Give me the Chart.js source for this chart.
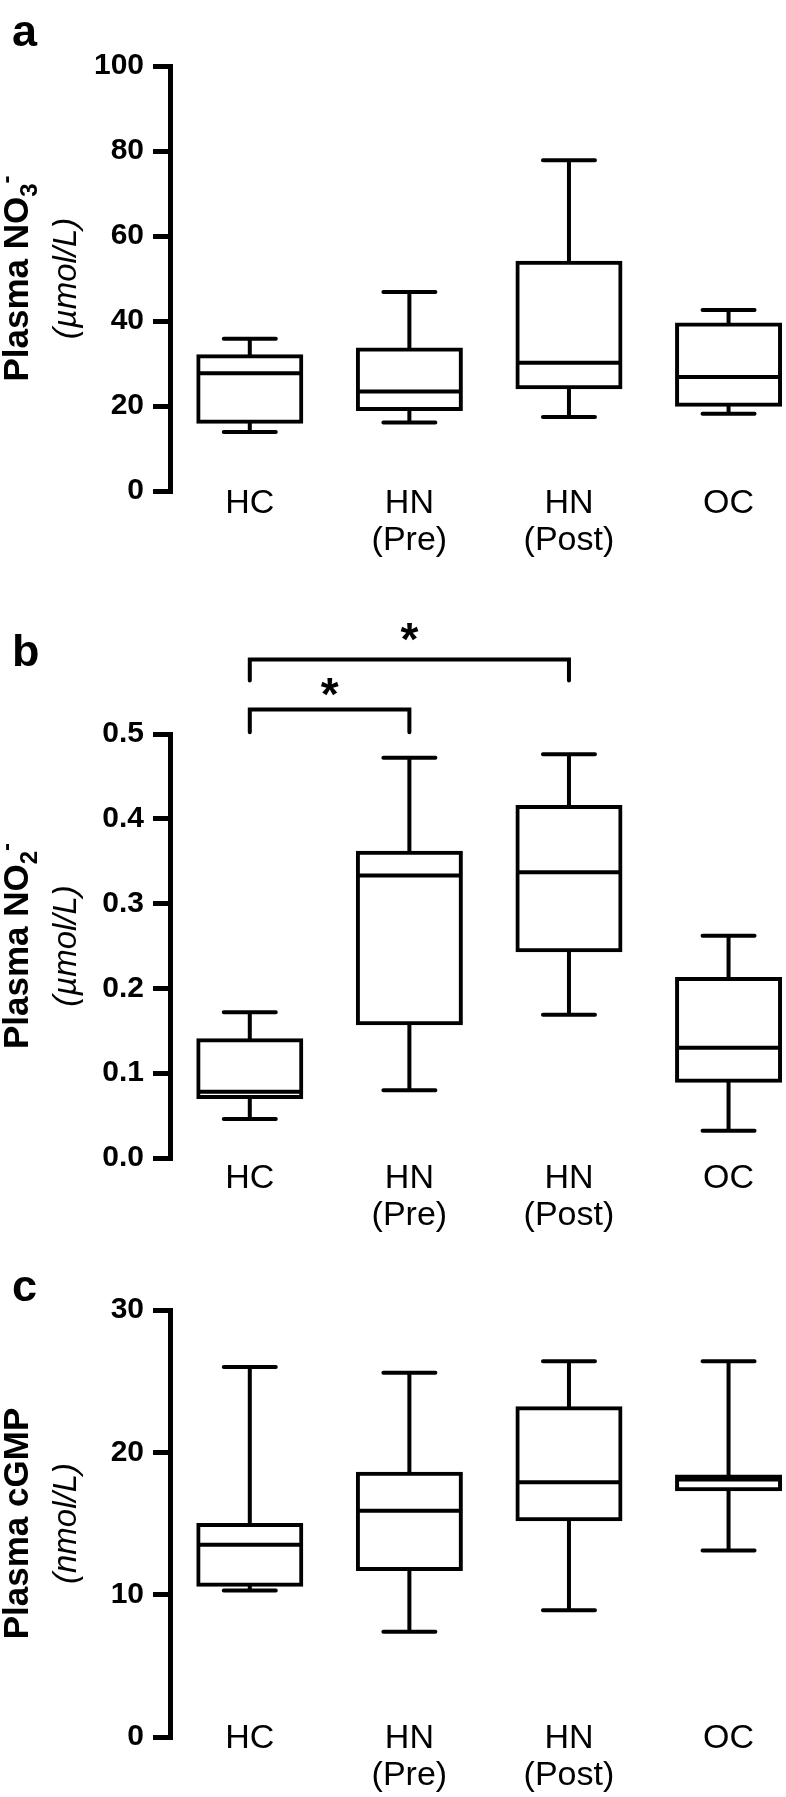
<!DOCTYPE html>
<html>
<head>
<meta charset="utf-8">
<script src="https://cdn.jsdelivr.net/npm/chart.js@4.4.0/dist/chart.umd.min.js"></script>
<style>
  body { margin: 0; background: #fff; }
  canvas { position: absolute; left: 0; }
</style>
</head>
<body>
<canvas id="chartA" width="786" height="590" style="top:0px"></canvas>
<canvas id="chartB" width="786" height="650" style="top:590px"></canvas>
<canvas id="chartC" width="786" height="557" style="top:1240px"></canvas>
<script>
var groups = [['HC'], ['HN', '(Pre)'], ['HN', '(Post)'], ['OC']];

// a - plasma nitrate (umol/L)
var no3Min = [13.9, 16.1, 17.4, 18.2];
var no3Q1 = [16.3, 19.3, 24.4, 20.3];
var no3Median = [27.7, 23.4, 30.2, 26.8];
var no3Q3 = [31.7, 33.3, 53.7, 39.2];
var no3Max = [35.8, 46.8, 77.8, 42.6];
var no3Ticks = [0, 20, 40, 60, 80, 100];
var no3TickLabels = ['0', '20', '40', '60', '80', '100'];

// b - plasma nitrite (umol/L)
var no2Min = [0.046, 0.080, 0.169, 0.032];
var no2Q1 = [0.072, 0.159, 0.245, 0.091];
var no2Median = [0.078, 0.333, 0.337, 0.130];
var no2Q3 = [0.139, 0.360, 0.414, 0.211];
var no2Max = [0.172, 0.472, 0.476, 0.262];
var no2Ticks = [0, 0.1, 0.2, 0.3, 0.4, 0.5];
var no2TickLabels = ['0.0', '0.1', '0.2', '0.3', '0.4', '0.5'];

// significance brackets in panel b (group index from/to, heights in y units)
var sigFrom = [0, 0];
var sigTo = [1, 2];
var sigBar = [0.529, 0.588];
var sigLeg = [0.502, 0.563];
var sigStar = [0.558, 0.623];
var sigText = ['*', '*'];

// c - plasma cGMP (nmol/L)
var cgmpMin = [10.3, 7.4, 8.9, 13.1];
var cgmpQ1 = [10.7, 11.8, 15.3, 17.4];
var cgmpMedian = [13.5, 15.9, 17.9, 18.1];
var cgmpQ3 = [14.9, 18.5, 23.1, 18.3];
var cgmpMax = [26.0, 25.6, 26.4, 26.4];
var cgmpTicks = [0, 10, 20, 30];
var cgmpTickLabels = ['0', '10', '20', '30'];

var FONT = '"Liberation Sans", Arial, Helvetica, sans-serif';

function makeChart(id, cfg) {
  var extras = {
    id: 'extras',
    afterDatasetsDraw: function (chart) {
      var ctx = chart.ctx, x = chart.scales.x, y = chart.scales.y;
      ctx.save();
      ctx.strokeStyle = '#000';
      ctx.lineWidth = 4;
      for (var i = 0; i < cfg.med.length; i++) {
        var cx = x.getPixelForValue(i);
        ctx.lineCap = 'butt';
        ctx.beginPath();
        ctx.moveTo(cx, y.getPixelForValue(cfg.q3[i]));
        ctx.lineTo(cx, y.getPixelForValue(cfg.max[i]));
        ctx.moveTo(cx, y.getPixelForValue(cfg.q1[i]));
        ctx.lineTo(cx, y.getPixelForValue(cfg.min[i]));
        ctx.moveTo(cx - 51.5, y.getPixelForValue(cfg.med[i]));
        ctx.lineTo(cx + 51.5, y.getPixelForValue(cfg.med[i]));
        ctx.stroke();
        // whisker caps
        ctx.lineCap = 'round';
        ctx.beginPath();
        ctx.moveTo(cx - 26, y.getPixelForValue(cfg.max[i]));
        ctx.lineTo(cx + 26, y.getPixelForValue(cfg.max[i]));
        ctx.moveTo(cx - 26, y.getPixelForValue(cfg.min[i]));
        ctx.lineTo(cx + 26, y.getPixelForValue(cfg.min[i]));
        ctx.stroke();
      }
      if (cfg.sig) {
        var s = cfg.sig;
        ctx.lineCap = 'round';
        ctx.lineJoin = 'miter';
        ctx.fillStyle = '#000';
        ctx.font = 'bold 46px ' + FONT;
        ctx.textAlign = 'center';
        ctx.textBaseline = 'alphabetic';
        for (var j = 0; j < s.from.length; j++) {
          var x1 = x.getPixelForValue(s.from[j]), x2 = x.getPixelForValue(s.to[j]);
          var top = y.getPixelForValue(s.bar[j]), leg = y.getPixelForValue(s.leg[j]);
          ctx.beginPath();
          ctx.moveTo(x1, leg);
          ctx.lineTo(x1, top);
          ctx.lineTo(x2, top);
          ctx.lineTo(x2, leg);
          ctx.stroke();
          ctx.fillText(s.text[j], (x1 + x2) / 2, y.getPixelForValue(s.star[j]) + 25);
        }
      }
      ctx.restore();
    },
    afterDraw: function (chart) {
      var ctx = chart.ctx, x = chart.scales.x, y = chart.scales.y;
      ctx.save();
      ctx.fillStyle = '#000';
      // category labels under each box
      ctx.font = '34px ' + FONT;
      ctx.textAlign = 'center';
      ctx.textBaseline = 'alphabetic';
      var base = y.getPixelForValue(0) + cfg.labelDrop;
      groups.forEach(function (lines, i) {
        lines.forEach(function (t, k) {
          ctx.fillText(t, x.getPixelForValue(i), base + k * 37);
        });
      });
      // panel letter
      ctx.textAlign = 'left';
      ctx.font = 'bold 45px ' + FONT;
      ctx.fillText(cfg.letter, 12, cfg.letterY);
      // rotated y title
      var cy = (y.top + y.bottom) / 2;
      ctx.save();
      ctx.translate(28, cy);
      ctx.rotate(-Math.PI / 2);
      var fonts = { main: 'bold 35px ' + FONT, sub: 'bold 24px ' + FONT, sup: 'bold 24px ' + FONT };
      var shift = { main: 0, sub: 9, sup: -14 };
      var total = 0;
      cfg.title.forEach(function (p) { ctx.font = fonts[p[1]]; total += ctx.measureText(p[0]).width; });
      var pos = -total / 2;
      cfg.title.forEach(function (p) {
        ctx.font = fonts[p[1]];
        ctx.fillText(p[0], pos, shift[p[1]]);
        pos += ctx.measureText(p[0]).width;
      });
      ctx.font = 'italic 33px ' + FONT;
      ctx.textAlign = 'center';
      ctx.fillText(cfg.unit, 0, 48);
      ctx.restore();
      ctx.restore();
    }
  };

  return new Chart(document.getElementById(id), {
    type: 'bar',
    data: {
      datasets: [{
        data: cfg.q1.map(function (v, i) { return { x: i, y: [v, cfg.q3[i]] }; }),
        backgroundColor: '#fff',
        borderColor: '#000',
        borderWidth: 4,
        borderSkipped: false,
        inflateAmount: 2,
        barThickness: 103
      }]
    },
    options: {
      responsive: false,
      animation: false,
      events: [],
      layout: { padding: { top: cfg.padTop, bottom: cfg.padBottom, left: 0, right: 0 } },
      plugins: { legend: { display: false }, tooltip: { enabled: false } },
      scales: {
        x: { type: 'linear', display: false, offset: false, min: -0.5, max: 3.36 },
        y: {
          min: cfg.ticks[0],
          max: cfg.ticks[cfg.ticks.length - 1],
          afterBuildTicks: function (s) {
            s.ticks = cfg.ticks.map(function (v) { return { value: v }; });
          },
          afterFit: function (s) { s.width = 170; },
          border: { display: true, color: '#000', width: 5 },
          grid: { drawOnChartArea: false, drawTicks: true, tickLength: 17, tickWidth: 5, tickColor: '#000', lineWidth: 5, color: '#000' },
          ticks: {
            color: '#000',
            padding: 9,
            font: { family: FONT, weight: 'bold', size: 30 },
            callback: function (v, i) { return cfg.tickLabels[i]; }
          }
        }
      }
    },
    plugins: [extras]
  });
}

makeChart('chartA', {
  min: no3Min, q1: no3Q1, med: no3Median, q3: no3Q3, max: no3Max,
  ticks: no3Ticks, tickLabels: no3TickLabels,
  title: [['Plasma NO', 'main'], ['3', 'sub'], ['-', 'sup']], unit: '(\u00b5mol/L)',
  letter: 'a', letterY: 46, labelDrop: 22, padTop: 66, padBottom: 99
});

makeChart('chartB', {
  min: no2Min, q1: no2Q1, med: no2Median, q3: no2Q3, max: no2Max,
  ticks: no2Ticks, tickLabels: no2TickLabels,
  title: [['Plasma NO', 'main'], ['2', 'sub'], ['-', 'sup']], unit: '(\u00b5mol/L)',
  letter: 'b', letterY: 76, labelDrop: 30, padTop: 144, padBottom: 82,
  sig: { from: sigFrom, to: sigTo, bar: sigBar, leg: sigLeg, star: sigStar, text: sigText }
});

makeChart('chartC', {
  min: cgmpMin, q1: cgmpQ1, med: cgmpMedian, q3: cgmpQ3, max: cgmpMax,
  ticks: cgmpTicks, tickLabels: cgmpTickLabels,
  title: [['Plasma cGMP', 'main']], unit: '(nmol/L)',
  letter: 'c', letterY: 61, labelDrop: 11, padTop: 70, padBottom: 60
});
</script>
</body>
</html>
